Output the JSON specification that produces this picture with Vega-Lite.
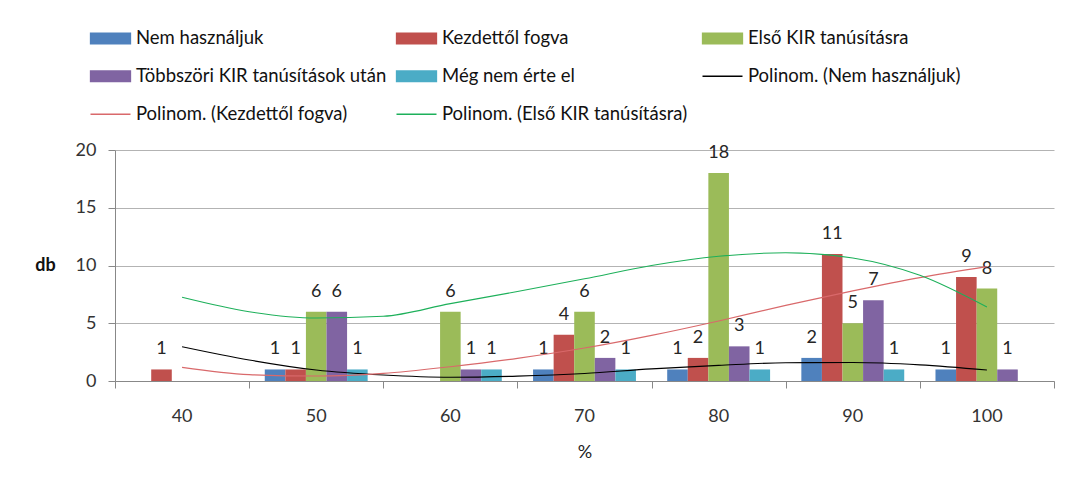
{
  "$schema": "https://vega.github.io/schema/vega-lite/v6.json",
  "width": 939,
  "height": 231,
  "autosize": {"type": "none"},
  "padding": {"left": 115, "top": 150, "right": 13, "bottom": 109},
  "background": "white",
  "config": {"font": "Lato", "view": {"stroke": null}},
  "datasets": {
    "bars": [
      {"pct": 40, "series": "Nem használjuk", "value": 0},
      {"pct": 40, "series": "Kezdettől fogva", "value": 1},
      {"pct": 40, "series": "Első KIR tanúsításra", "value": 0},
      {"pct": 40, "series": "Többszöri KIR tanúsítások után", "value": 0},
      {"pct": 40, "series": "Még nem érte el", "value": 0},
      {"pct": 50, "series": "Nem használjuk", "value": 1},
      {"pct": 50, "series": "Kezdettől fogva", "value": 1},
      {"pct": 50, "series": "Első KIR tanúsításra", "value": 6},
      {"pct": 50, "series": "Többszöri KIR tanúsítások után", "value": 6},
      {"pct": 50, "series": "Még nem érte el", "value": 1},
      {"pct": 60, "series": "Nem használjuk", "value": 0},
      {"pct": 60, "series": "Kezdettől fogva", "value": 0},
      {"pct": 60, "series": "Első KIR tanúsításra", "value": 6},
      {"pct": 60, "series": "Többszöri KIR tanúsítások után", "value": 1},
      {"pct": 60, "series": "Még nem érte el", "value": 1},
      {"pct": 70, "series": "Nem használjuk", "value": 1},
      {"pct": 70, "series": "Kezdettől fogva", "value": 4},
      {"pct": 70, "series": "Első KIR tanúsításra", "value": 6},
      {"pct": 70, "series": "Többszöri KIR tanúsítások után", "value": 2},
      {"pct": 70, "series": "Még nem érte el", "value": 1},
      {"pct": 80, "series": "Nem használjuk", "value": 1},
      {"pct": 80, "series": "Kezdettől fogva", "value": 2},
      {"pct": 80, "series": "Első KIR tanúsításra", "value": 18},
      {"pct": 80, "series": "Többszöri KIR tanúsítások után", "value": 3},
      {"pct": 80, "series": "Még nem érte el", "value": 1},
      {"pct": 90, "series": "Nem használjuk", "value": 2},
      {"pct": 90, "series": "Kezdettől fogva", "value": 11},
      {"pct": 90, "series": "Első KIR tanúsításra", "value": 5},
      {"pct": 90, "series": "Többszöri KIR tanúsítások után", "value": 7},
      {"pct": 90, "series": "Még nem érte el", "value": 1},
      {"pct": 100, "series": "Nem használjuk", "value": 1},
      {"pct": 100, "series": "Kezdettől fogva", "value": 9},
      {"pct": 100, "series": "Első KIR tanúsításra", "value": 8},
      {"pct": 100, "series": "Többszöri KIR tanúsítások után", "value": 1},
      {"pct": 100, "series": "Még nem érte el", "value": 0}
    ],
    "trend": [
      {"x": 40, "series": "Polinom. (Nem használjuk)", "value": 2.97},
      {"x": 45, "series": "Polinom. (Nem használjuk)", "value": 1.82},
      {"x": 50, "series": "Polinom. (Nem használjuk)", "value": 0.95},
      {"x": 55, "series": "Polinom. (Nem használjuk)", "value": 0.52},
      {"x": 60, "series": "Polinom. (Nem használjuk)", "value": 0.33},
      {"x": 65, "series": "Polinom. (Nem használjuk)", "value": 0.42},
      {"x": 70, "series": "Polinom. (Nem használjuk)", "value": 0.65},
      {"x": 75, "series": "Polinom. (Nem használjuk)", "value": 1.05},
      {"x": 80, "series": "Polinom. (Nem használjuk)", "value": 1.35},
      {"x": 85, "series": "Polinom. (Nem használjuk)", "value": 1.58},
      {"x": 90, "series": "Polinom. (Nem használjuk)", "value": 1.6},
      {"x": 95, "series": "Polinom. (Nem használjuk)", "value": 1.4},
      {"x": 100, "series": "Polinom. (Nem használjuk)", "value": 0.95},
      {"x": 40, "series": "Polinom. (Kezdettől fogva)", "value": 1.18},
      {"x": 45, "series": "Polinom. (Kezdettől fogva)", "value": 0.55},
      {"x": 50, "series": "Polinom. (Kezdettől fogva)", "value": 0.43},
      {"x": 55, "series": "Polinom. (Kezdettől fogva)", "value": 0.66},
      {"x": 60, "series": "Polinom. (Kezdettől fogva)", "value": 1.24},
      {"x": 65, "series": "Polinom. (Kezdettől fogva)", "value": 1.96},
      {"x": 70, "series": "Polinom. (Kezdettől fogva)", "value": 2.85},
      {"x": 75, "series": "Polinom. (Kezdettől fogva)", "value": 3.95},
      {"x": 80, "series": "Polinom. (Kezdettől fogva)", "value": 5.2},
      {"x": 85, "series": "Polinom. (Kezdettől fogva)", "value": 6.55},
      {"x": 90, "series": "Polinom. (Kezdettől fogva)", "value": 7.8},
      {"x": 95, "series": "Polinom. (Kezdettől fogva)", "value": 8.95},
      {"x": 100, "series": "Polinom. (Kezdettől fogva)", "value": 9.9},
      {"x": 40, "series": "Polinom. (Első KIR tanúsításra)", "value": 7.25},
      {"x": 45, "series": "Polinom. (Első KIR tanúsításra)", "value": 6.0},
      {"x": 50, "series": "Polinom. (Első KIR tanúsításra)", "value": 5.45},
      {"x": 55, "series": "Polinom. (Első KIR tanúsításra)", "value": 5.6},
      {"x": 60, "series": "Polinom. (Első KIR tanúsításra)", "value": 6.7},
      {"x": 65, "series": "Polinom. (Első KIR tanúsításra)", "value": 7.75},
      {"x": 70, "series": "Polinom. (Első KIR tanúsításra)", "value": 8.85},
      {"x": 75, "series": "Polinom. (Első KIR tanúsításra)", "value": 10.0},
      {"x": 80, "series": "Polinom. (Első KIR tanúsításra)", "value": 10.8},
      {"x": 85, "series": "Polinom. (Első KIR tanúsításra)", "value": 11.1},
      {"x": 90, "series": "Polinom. (Első KIR tanúsításra)", "value": 10.65},
      {"x": 95, "series": "Polinom. (Első KIR tanúsításra)", "value": 9.15},
      {"x": 100, "series": "Polinom. (Első KIR tanúsításra)", "value": 6.4}
    ]
  },
  "layer": [
    {
      "data": {"name": "bars"},
      "mark": {"type": "bar"},
      "encoding": {
        "x": {
          "field": "pct", "type": "ordinal", "title": "%",
          "scale": {"paddingInner": 0.233, "paddingOuter": 0.1165},
          "axis": {"ticks": false, "domain": false, "grid": false, "labelAngle": 0, "labelPadding": 26, "labelFontSize": 18, "labelColor": "#333333", "titleFontSize": 18, "titleFontWeight": "normal", "titleColor": "#222222", "titleY": 71, "titleBaseline": "middle"}
        },
        "xOffset": {
          "field": "series", "type": "nominal",
          "sort": ["Nem használjuk", "Kezdettől fogva", "Első KIR tanúsításra", "Többszöri KIR tanúsítások után", "Még nem érte el"],
          "scale": {"domain": ["Nem használjuk", "Kezdettől fogva", "Első KIR tanúsításra", "Többszöri KIR tanúsítások után", "Még nem érte el"]}
        },
        "y": {
          "field": "value", "type": "quantitative", "title": "db",
          "scale": {"domain": [0, 20], "nice": false},
          "axis": {"values": [0, 5, 10, 15, 20], "tickSize": 7, "tickColor": "#888888", "domainColor": "#888888", "gridColor": "#b3b3b3", "labelFontSize": 18, "labelColor": "#333333", "labelPadding": 12, "titleAngle": 0, "titleX": -70, "titleY": 115.5, "titleAlign": "center", "titleBaseline": "middle", "titleFontWeight": "bold", "titleFontSize": 18, "titleColor": "#111111"}
        },
        "color": {
          "field": "series", "type": "nominal",
          "scale": {
            "domain": ["Nem használjuk", "Kezdettől fogva", "Első KIR tanúsításra", "Többszöri KIR tanúsítások után", "Még nem érte el"],
            "range": ["#4F81BD", "#C0504D", "#9BBB59", "#8064A2", "#4BACC6"]
          },
          "legend": null
        }
      }
    },
    {
      "data": {"name": "bars"},
      "transform": [{"filter": "datum.value > 0"}],
      "mark": {"type": "text", "dy": -20, "baseline": "middle", "fontSize": 18, "color": "#262626"},
      "encoding": {
        "x": {"field": "pct", "type": "ordinal", "scale": {"paddingInner": 0.233, "paddingOuter": 0.1165}, "axis": null},
        "xOffset": {
          "field": "series", "type": "nominal",
          "scale": {"domain": ["Nem használjuk", "Kezdettől fogva", "Első KIR tanúsításra", "Többszöri KIR tanúsítások után", "Még nem érte el"]}
        },
        "y": {"field": "value", "type": "quantitative", "title": "db"},
        "text": {"field": "value", "type": "quantitative"}
      }
    },
    {
      "data": {"name": "trend"},
      "transform": [{"filter": "datum.series === 'Polinom. (Nem használjuk)'"}],
      "mark": {"type": "line", "strokeWidth": 1.1, "interpolate": "monotone", "color": "#000000"},
      "encoding": {
        "x": {
          "field": "x", "type": "quantitative",
          "scale": {"domain": [35, 105], "nice": false, "zero": false},
          "axis": {"orient": "bottom", "values": [35, 45, 55, 65, 75, 85, 95, 105], "labels": false, "title": null, "grid": false, "tickSize": 7, "tickColor": "#888888", "domainColor": "#888888"}
        },
        "y": {"field": "value", "type": "quantitative", "title": "db"}
      }
    },
    {
      "data": {"name": "trend"},
      "transform": [{"filter": "datum.series === 'Polinom. (Kezdettől fogva)'"}],
      "mark": {"type": "line", "strokeWidth": 1.1, "interpolate": "monotone", "color": "#D9696B"},
      "encoding": {
        "x": {"field": "x", "type": "quantitative", "scale": {"domain": [35, 105], "nice": false, "zero": false}, "axis": null},
        "y": {"field": "value", "type": "quantitative", "title": "db"}
      }
    },
    {
      "data": {"name": "trend"},
      "transform": [{"filter": "datum.series === 'Polinom. (Első KIR tanúsításra)'"}],
      "mark": {"type": "line", "strokeWidth": 1.1, "interpolate": "monotone", "color": "#1DB05A"},
      "encoding": {
        "x": {"field": "x", "type": "quantitative", "scale": {"domain": [35, 105], "nice": false, "zero": false}, "axis": null},
        "y": {"field": "value", "type": "quantitative", "title": "db"}
      }
    },
    {
      "data": {"name": "trend"},
      "mark": {"type": "point", "opacity": 0, "filled": true},
      "encoding": {
        "x": {"field": "x", "type": "quantitative", "scale": {"domain": [35, 105], "nice": false, "zero": false}, "axis": null},
        "y": {"field": "value", "type": "quantitative", "title": "db"},
        "fill": {
          "field": "series", "type": "nominal",
          "scale": {
            "domain": ["Nem használjuk", "Kezdettől fogva", "Első KIR tanúsításra", "Többszöri KIR tanúsítások után", "Még nem érte el", "Polinom. (Nem használjuk)", "Polinom. (Kezdettől fogva)", "Polinom. (Első KIR tanúsításra)"],
            "range": ["#4F81BD", "#C0504D", "#9BBB59", "#8064A2", "#4BACC6", "#000000", "#D9696B", "#1DB05A"]
          },
          "legend": {
            "orient": "none", "legendX": -25, "legendY": -121, "columns": 3, "direction": "horizontal",
            "title": null, "padding": 0, "labelFont": "Lato", "labelFontSize": 18.5, "labelColor": "#111111",
            "labelLimit": 400, "symbolSize": 100, "symbolOpacity": 1, "symbolStrokeWidth": 1.3,
            "labelOffset": 27.5, "columnPadding": 6, "rowPadding": 19, "gridAlign": "all"
          }
        },
        "stroke": {
          "field": "series", "type": "nominal",
          "scale": {
            "domain": ["Nem használjuk", "Kezdettől fogva", "Első KIR tanúsításra", "Többszöri KIR tanúsítások után", "Még nem érte el", "Polinom. (Nem használjuk)", "Polinom. (Kezdettől fogva)", "Polinom. (Első KIR tanúsításra)"],
            "range": ["#4F81BD", "#C0504D", "#9BBB59", "#8064A2", "#4BACC6", "#000000", "#D9696B", "#1DB05A"]
          },
          "legend": {
            "orient": "none", "legendX": -25, "legendY": -121, "columns": 3, "direction": "horizontal",
            "title": null, "padding": 0, "labelFont": "Lato", "labelFontSize": 18.5, "labelColor": "#111111",
            "labelLimit": 400, "symbolSize": 100, "symbolOpacity": 1, "symbolStrokeWidth": 1.3,
            "labelOffset": 27.5, "columnPadding": 6, "rowPadding": 19, "gridAlign": "all"
          }
        },
        "shape": {
          "field": "series", "type": "nominal",
          "scale": {
            "domain": ["Nem használjuk", "Kezdettől fogva", "Első KIR tanúsításra", "Többszöri KIR tanúsítások után", "Még nem érte el", "Polinom. (Nem használjuk)", "Polinom. (Kezdettől fogva)", "Polinom. (Első KIR tanúsításra)"],
            "range": ["M-1.75,-1.07H6.25V1.07H-1.75Z", "M-1.75,-1.07H6.25V1.07H-1.75Z", "M-1.75,-1.07H6.25V1.07H-1.75Z", "M-1.75,-1.07H6.25V1.07H-1.75Z", "M-1.75,-1.07H6.25V1.07H-1.75Z", "M-1.75,0H6.25", "M-1.75,0H6.25", "M-1.75,0H6.25"]
          },
          "legend": {
            "orient": "none", "legendX": -25, "legendY": -121, "columns": 3, "direction": "horizontal",
            "title": null, "padding": 0, "labelFont": "Lato", "labelFontSize": 18.5, "labelColor": "#111111",
            "labelLimit": 400, "symbolSize": 100, "symbolOpacity": 1, "symbolStrokeWidth": 1.3,
            "labelOffset": 27.5, "columnPadding": 6, "rowPadding": 19, "gridAlign": "all"
          }
        }
      }
    }
  ],
  "resolve": {"scale": {"x": "independent"}}
}
